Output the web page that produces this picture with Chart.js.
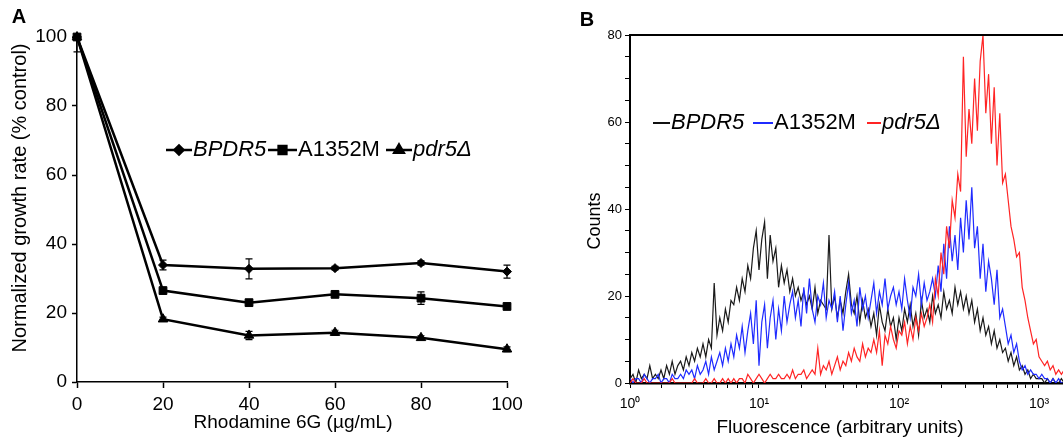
<!DOCTYPE html>
<html>
<head>
<meta charset="utf-8">
<script src="https://cdn.jsdelivr.net/npm/chart.js@4.4.0/dist/chart.umd.min.js"></script>
<style>
  html, body { margin: 0; padding: 0; background: #fff; overflow: hidden; }
  body { width: 1063px; height: 442px; position: relative; }
  #chartA { position: absolute; left: 0; top: 0; }
  #chartB { position: absolute; left: 560px; top: 0; }
</style>
</head>
<body>
<canvas id="chartA" width="540" height="442"></canvas>
<canvas id="chartB" width="640" height="442"></canvas>
<script>
// ---- Panel A: growth rate vs rhodamine 6G ----
const doses = [0, 20, 40, 60, 80, 100];
const doseTicks = [0, 20, 40, 60, 80, 100];
const growthTicks = [0, 20, 40, 60, 80, 100];
const bpdr5Growth = [100, 33.9, 32.8, 33.0, 34.5, 32.0];
const bpdr5Err = [4.3, 1.4, 2.9, 0.5, 0.6, 1.9];
const a1352mGrowth = [100, 26.5, 23.0, 25.4, 24.3, 21.9];
const a1352mErr = [0, 0.6, 0.8, 0.7, 1.8, 0.6];
const pdr5Growth = [100, 18.2, 13.5, 14.3, 12.8, 9.5];
const pdr5Err = [0, 0.6, 1.2, 0.7, 0.6, 0.7];

// ---- Panel B: fluorescence histograms (one value per 0.02 decade, from 10^0.08) ----
const binLogStart = 0.08;
const binLogStep = 0.02;
const countTicks = [0, 20, 40, 60, 80];
const decadeLabels = ['10⁰', '10¹', '10²', '10³', '10⁴'];
const bpdr5Counts = [1,2,0,3,1,2,1,4,1,2,1,
  3,1,4,2,5,2,4,
  5,3,6,4,7,5,8,6,
  9,6,10,8,23,
  11,15,12,17,14,19,
  18,22,19,24,21,
  27,24,31,
  35,26,33,
  37,24,34,28,31,22,27,
  23,26,21,24,20,22,19,
  21,18,20,17,22,16,19,18,17,
  34,
  17,20,15,19,16,21,25,18,16,20,14,19,15,17,
  13,16,11,18,14,12,17,13,15,10,
  15,12,17,14,18,13,16,11,19,15,17,14,20,16,18,15,21,17,19,16,22,
  18,21,17,20,16,19,
  14,17,12,15,11,
  13,9,12,8,10,7,
  8,5,7,4,6,3,
  4,2,3,1,2,1,1,
  1,0,1,0,1,0,0,1,0,0];
const a1352mCounts = [1,0,1,1,0,2,1,0,1,1,2,0,1,1,0,2,1,1,2,1,3,
  2,3,1,4,2,3,
  5,2,6,3,5,
  7,4,8,5,9,
  6,11,8,13,7,12,
  16,9,19,4,14,
  18,8,15,19,10,17,12,20,14,18,
  21,15,19,13,22,16,24,17,14,20,18,23,15,19,
  17,21,14,20,12,18,23,16,19,13,22,17,20,15,
  19,23,16,21,18,24,17,20,22,18,
  21,17,24,19,15,22,20,25,18,23,19,21,24,20,
  27,21,32,24,36,28,
  34,26,38,30,42,33,45,31,
  36,24,32,21,28,
  24,18,26,15,17,
  13,9,11,7,9,
  5,3,4,2,3,2,2,
  1,2,1,1,0,1,0,1,0,0,1];
const pdr5Counts = [0,1,0,0,0,1,0,0,0,0,0,0,0,0,0,1,0,0,0,0,0,0,0,1,0,0,0,1,0,0,1,0,0,1,0,1,0,
  1,0,1,1,0,2,1,0,1,2,1,0,1,2,1,1,2,1,
  1,2,1,3,1,2,2,3,1,2,3,2,
  8,
  2,4,3,5,2,4,6,3,5,
  4,7,5,8,6,5,9,6,8,7,
  10,7,12,4,11,9,13,10,8,12,
  11,14,9,13,10,15,12,16,13,
  15,18,14,24,20,30,25,36,31,42,
  38,48,44,75,52,63,55,70,58,74,
  80,62,71,55,68,50,62,46,48,42,
  36,33,29,30,22,19,15,12,9,10,
  6,5,4,5,3,4,2,3,2,3,2];

Chart.defaults.font.family = '"Liberation Sans", Arial, sans-serif';
Chart.defaults.color = '#000';
Chart.defaults.animation = false;

function fontStr(size, style, weight) {
  return (style || 'normal') + ' ' + (weight || 'normal') + ' ' + size + 'px "Liberation Sans", Arial, sans-serif';
}

// draws free text items: {text, x, y, size, rot, bold, italic}
function drawTexts(ctx, items) {
  items.forEach(t => {
    ctx.save();
    ctx.translate(t.x, t.y);
    if (t.rot) ctx.rotate(t.rot);
    ctx.font = fontStr(t.size, t.italic ? 'italic' : 'normal', t.bold ? 'bold' : 'normal');
    ctx.fillStyle = '#000';
    ctx.textAlign = t.align || 'center';
    ctx.textBaseline = 'middle';
    ctx.fillText(t.text, 0, 0);
    ctx.restore();
  });
}

// inline legend: line sample (optional marker) then label
function drawLegend(ctx, y, items, lineWidth, size) {
  items.forEach(it => {
    ctx.save();
    ctx.strokeStyle = it.color;
    ctx.lineWidth = lineWidth;
    ctx.beginPath();
    ctx.moveTo(it.x0, y);
    ctx.lineTo(it.x1, y);
    ctx.stroke();
    if (it.marker) {
      ctx.fillStyle = it.color;
      Chart.helpers.drawPoint(ctx, { pointStyle: it.marker, radius: it.radius, rotation: 0, borderWidth: 1 }, (it.x0 + it.x1) / 2, y);
    }
    ctx.font = fontStr(size, it.italic ? 'italic' : 'normal');
    ctx.fillStyle = '#000';
    ctx.textBaseline = 'middle';
    ctx.textAlign = 'left';
    ctx.fillText(it.text, it.x1 + 1, y);
    ctx.restore();
  });
}

const errorBars = {
  id: 'errorBars',
  beforeDatasetsDraw(chart) {
    const ctx = chart.ctx;
    const xs = chart.scales.x, ys = chart.scales.y;
    const area = chart.chartArea;
    chart.data.datasets.forEach(ds => {
      if (!ds.errors) return;
      ctx.save();
      ctx.beginPath();
      ctx.rect(area.left - 10, area.top, area.right - area.left + 20, area.bottom - area.top);
      ctx.clip();
      ctx.strokeStyle = '#000';
      ctx.lineWidth = 1.2;
      ds.data.forEach((p, i) => {
        const e = ds.errors[i];
        if (!e) return;
        const x = xs.getPixelForValue(p.x);
        const yTop = ys.getPixelForValue(p.y + e);
        const yBot = ys.getPixelForValue(p.y - e);
        ctx.beginPath();
        ctx.moveTo(x, yTop); ctx.lineTo(x, yBot);
        ctx.moveTo(x - 3.5, yTop); ctx.lineTo(x + 3.5, yTop);
        ctx.moveTo(x - 3.5, yBot); ctx.lineTo(x + 3.5, yBot);
        ctx.stroke();
      });
      ctx.restore();
    });
  }
};

const panelADecor = {
  id: 'panelADecor',
  afterDraw(chart) {
    const ctx = chart.ctx;
    drawTexts(ctx, [
      { text: 'A', x: 19, y: 17, size: 20, bold: true },
      { text: 'Normalized growth rate (% control)', x: 20, y: 198, size: 20, rot: -Math.PI / 2 },
      { text: 'Rhodamine 6G (\u00b5g/mL)', x: 293, y: 423, size: 19 }
    ]);
    drawLegend(ctx, 150, [
      { x0: 166, x1: 192, color: '#000', marker: 'rectRot', radius: 4.5, text: 'BPDR5', italic: true },
      { x0: 268, x1: 297, color: '#000', marker: 'rect', radius: 5.5, text: 'A1352M' },
      { x0: 386, x1: 412, color: '#000', marker: 'triangle', radius: 5.5, text: 'pdr5\u0394', italic: true }
    ], 2.5, 22);
  }
};

function seriesA(label, values, errors, style, radius) {
  return {
    label: label,
    data: doses.map((d, i) => ({ x: d, y: values[i] })),
    errors: errors,
    borderColor: '#000',
    backgroundColor: '#000',
    borderWidth: 2.5,
    pointStyle: style,
    pointRadius: radius,
    pointBackgroundColor: '#000',
    pointBorderColor: '#000',
    pointBorderWidth: 1,
    tension: 0,
    clip: false
  };
}

new Chart(document.getElementById('chartA'), {
  type: 'line',
  data: {
    datasets: [
      seriesA('BPDR5', bpdr5Growth, bpdr5Err, 'rectRot', 4.5),
      seriesA('A1352M', a1352mGrowth, a1352mErr, 'rect', 5.5),
      seriesA('pdr5\u0394', pdr5Growth, pdr5Err, 'triangle', 5.5)
    ]
  },
  options: {
    responsive: false,
    layout: { padding: { left: 0, top: 37, right: 33, bottom: 0 } },
    plugins: { legend: { display: false }, tooltip: { enabled: false } },
    scales: {
      x: {
        type: 'linear', min: 0, max: 100,
        afterBuildTicks: s => { s.ticks = doseTicks.map(v => ({ value: v })); },
        afterFit: s => { s.height = 60; },
        ticks: { font: { size: 19 }, padding: 5, maxRotation: 0, color: '#000' },
        grid: { drawOnChartArea: false, tickLength: 6, color: '#000', tickWidth: 1.5 },
        border: { color: '#000', width: 1.5 }
      },
      y: {
        type: 'linear', min: 0, max: 100,
        afterBuildTicks: s => { s.ticks = growthTicks.map(v => ({ value: v })); },
        afterFit: s => { s.width = 77; },
        ticks: { font: { size: 19 }, padding: 5, color: '#000' },
        grid: { drawOnChartArea: false, tickLength: 5, color: '#000', tickWidth: 1.5 },
        border: { color: '#000', width: 1.5 }
      }
    }
  },
  plugins: [errorBars, panelADecor]
});

// ---- Panel B ----
function histPoints(counts) {
  return counts.map((c, i) => ({ x: Math.pow(10, binLogStart + i * binLogStep), y: c }));
}

const xMinB = Math.pow(10, 0.0786);

function decadeTicks() {
  const t = [{ value: xMinB }];
  for (let e = 0; e < 4; e++) {
    for (let m = 2; m <= 10; m++) t.push({ value: m * Math.pow(10, e) });
  }
  return t;
}

const panelBDecor = {
  id: 'panelBDecor',
  afterDraw(chart) {
    const ctx = chart.ctx;
    const a = chart.chartArea;
    ctx.save();
    ctx.strokeStyle = '#000';
    ctx.lineWidth = 2;
    ctx.beginPath();
    ctx.moveTo(a.left - 1, a.top);
    ctx.lineTo(a.right, a.top);
    ctx.lineTo(a.right, a.bottom);
    ctx.stroke();
    ctx.restore();
    drawTexts(ctx, [
      { text: 'B', x: 27, y: 20, size: 20, bold: true },
      { text: 'Counts', x: 35, y: 221, size: 18, rot: -Math.PI / 2 },
      { text: 'Fluorescence (arbitrary units)', x: 280, y: 428, size: 19 }
    ]);
    drawLegend(ctx, 123, [
      { x0: 93, x1: 110, color: '#111', text: 'BPDR5', italic: true },
      { x0: 193, x1: 213, color: '#1f2bff', text: 'A1352M' },
      { x0: 307, x1: 321, color: '#ff2424', text: 'pdr5\u0394', italic: true }
    ], 2, 22);
  }
};

function seriesB(label, counts, color, order) {
  return {
    label: label,
    data: histPoints(counts),
    borderColor: color,
    borderWidth: 1.2,
    pointRadius: 0,
    tension: 0,
    order: order
  };
}

new Chart(document.getElementById('chartB'), {
  type: 'line',
  data: {
    datasets: [
      seriesB('BPDR5', bpdr5Counts, '#1a1a1a', 3),
      seriesB('A1352M', a1352mCounts, '#1f2bff', 2),
      seriesB('pdr5\u0394', pdr5Counts, '#ff2424', 1)
    ]
  },
  options: {
    responsive: false,
    layout: { padding: { left: 0, top: 35, right: 21, bottom: 0 } },
    plugins: { legend: { display: false }, tooltip: { enabled: false } },
    scales: {
      x: {
        type: 'logarithmic', min: xMinB, max: 10000,
        afterBuildTicks: s => { s.ticks = decadeTicks(); },
        afterFit: s => { s.height = 59; },
        ticks: {
          autoSkip: false, maxRotation: 0, font: { size: 14 }, padding: 8, color: '#000',
          callback: v => {
            if (v === xMinB) return decadeLabels[0];
            const e = Math.log10(v);
            return Math.abs(e - Math.round(e)) < 1e-9 ? decadeLabels[Math.round(e)] : '';
          }
        },
        grid: { drawOnChartArea: false, tickLength: 5, color: '#000', tickWidth: 1 },
        border: { color: '#000', width: 2.5 }
      },
      y: {
        type: 'linear', min: 0, max: 80,
        afterBuildTicks: s => {
          const t = [];
          for (let v = 0; v <= 80; v += 5) t.push({ value: v });
          s.ticks = t;
        },
        afterFit: s => { s.width = 70; },
        ticks: {
          font: { size: 13 }, padding: 3, color: '#000',
          callback: v => countTicks.includes(v) ? String(v) : ''
        },
        grid: { drawOnChartArea: false, tickLength: 5, color: '#000', tickWidth: 1 },
        border: { color: '#000', width: 2 }
      }
    }
  },
  plugins: [panelBDecor]
});
</script>
</body>
</html>
